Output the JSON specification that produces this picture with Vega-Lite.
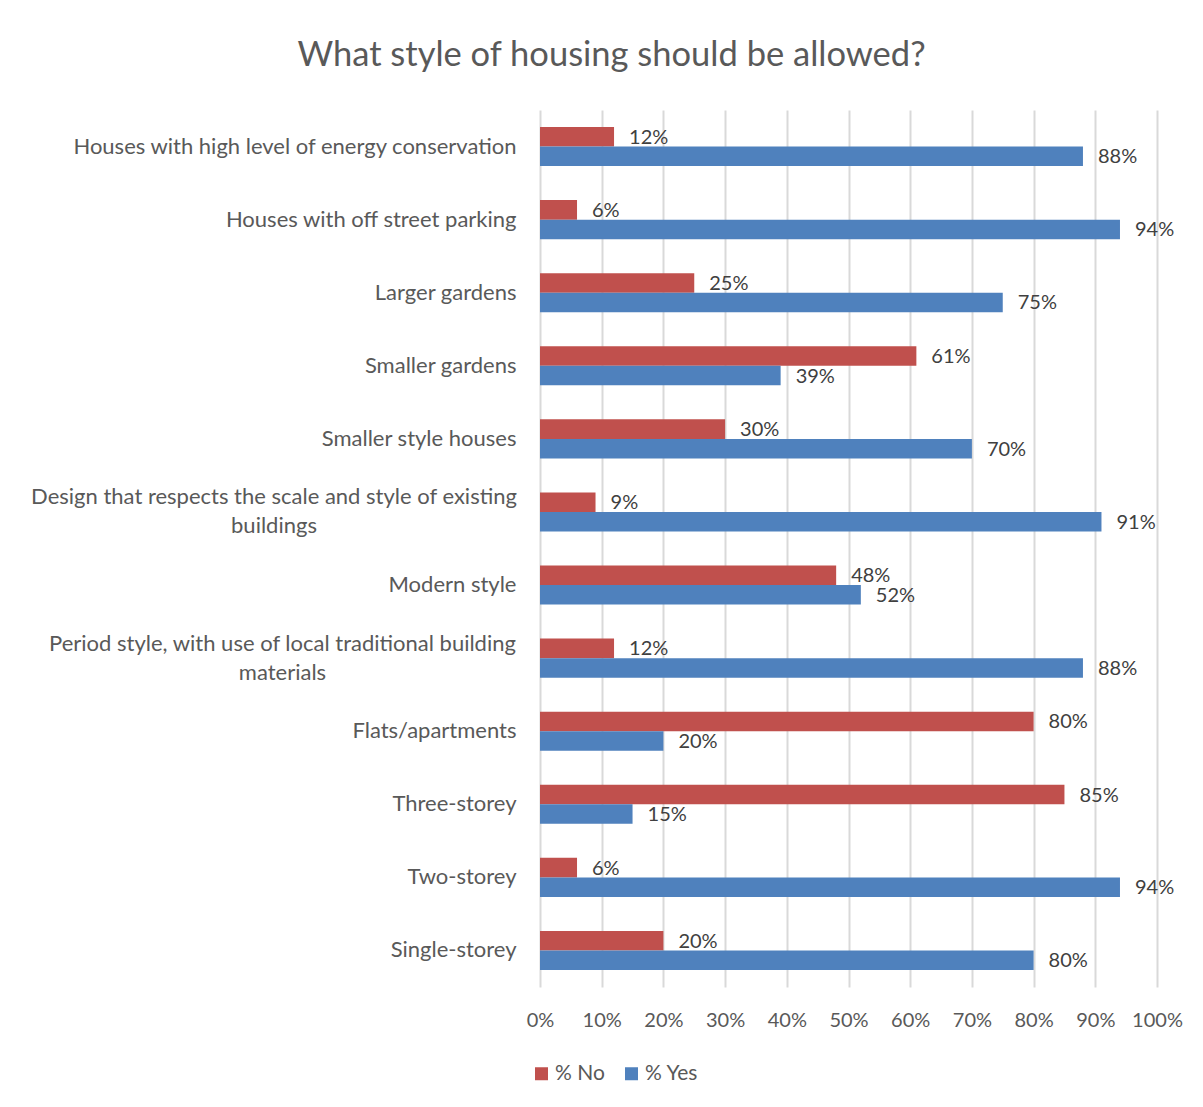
{
  "$schema": "https://vega.github.io/schema/vega-lite/v6.json",
  "autosize": {"type": "none"},
  "width": 617,
  "height": 877,
  "padding": {"left": 540, "top": 110, "right": 46, "bottom": 120},
  "background": "#ffffff",
  "title": {
    "text": "What style of housing should be allowed?",
    "anchor": "middle",
    "dx": -237,
    "offset": 37,
    "font": "Lato",
    "fontSize": 34.5,
    "fontWeight": "normal",
    "color": "#595959"
  },
  "data": {
    "values": [
      {"category": "Houses with high level of energy conservation", "series": "% No", "value": 0.12},
      {"category": "Houses with high level of energy conservation", "series": "% Yes", "value": 0.88},
      {"category": "Houses with off street parking", "series": "% No", "value": 0.06},
      {"category": "Houses with off street parking", "series": "% Yes", "value": 0.94},
      {"category": "Larger gardens", "series": "% No", "value": 0.25},
      {"category": "Larger gardens", "series": "% Yes", "value": 0.75},
      {"category": "Smaller gardens", "series": "% No", "value": 0.61},
      {"category": "Smaller gardens", "series": "% Yes", "value": 0.39},
      {"category": "Smaller style houses", "series": "% No", "value": 0.30},
      {"category": "Smaller style houses", "series": "% Yes", "value": 0.70},
      {"category": "Design that respects the scale and style of existing buildings", "series": "% No", "value": 0.09},
      {"category": "Design that respects the scale and style of existing buildings", "series": "% Yes", "value": 0.91},
      {"category": "Modern style", "series": "% No", "value": 0.48},
      {"category": "Modern style", "series": "% Yes", "value": 0.52},
      {"category": "Period style, with use of local traditional building materials", "series": "% No", "value": 0.12},
      {"category": "Period style, with use of local traditional building materials", "series": "% Yes", "value": 0.88},
      {"category": "Flats/apartments", "series": "% No", "value": 0.80},
      {"category": "Flats/apartments", "series": "% Yes", "value": 0.20},
      {"category": "Three-storey", "series": "% No", "value": 0.85},
      {"category": "Three-storey", "series": "% Yes", "value": 0.15},
      {"category": "Two-storey", "series": "% No", "value": 0.06},
      {"category": "Two-storey", "series": "% Yes", "value": 0.94},
      {"category": "Single-storey", "series": "% No", "value": 0.20},
      {"category": "Single-storey", "series": "% Yes", "value": 0.80}
    ]
  },
  "encoding": {
    "y": {
      "field": "category",
      "type": "nominal",
      "sort": null,
      "title": null,
      "scale": {"paddingInner": 0.466, "paddingOuter": 0.233},
      "axis": {
        "domain": false,
        "ticks": false,
        "grid": false,
        "labelFont": "Lato",
        "labelFontSize": 22,
        "labelColor": "#595959",
        "labelLimit": 700,
        "labelLineHeight": 29,
        "labelBaseline": "middle",
        "labelExpr": "datum.value == 'Design that respects the scale and style of existing buildings' ? ['Design that respects the scale and style of existing', 'buildings'] : datum.value == 'Period style, with use of local traditional building materials' ? ['Period style, with use of local traditional building', 'materials'] : datum.value",
        "labelAlign": {"condition": {"test": "indexof(datum.value, ' building') >= 0", "value": "center"}, "value": "right"},
        "labelOffset": {"condition": {"test": "indexof(datum.value, ' building') >= 0", "value": -14.5}, "value": 0},
        "labelPadding": {"condition": [
          {"test": "datum.value == 'Design that respects the scale and style of existing buildings'", "value": 266.5},
          {"test": "datum.value == 'Period style, with use of local traditional building materials'", "value": 258}
        ], "value": 24}
      }
    },
    "yOffset": {"field": "series", "type": "nominal", "sort": ["% No", "% Yes"], "scale": {"paddingInner": 0, "paddingOuter": 0}},
    "x": {
      "field": "value",
      "type": "quantitative",
      "title": null,
      "scale": {"domain": [0, 1], "nice": false},
      "axis": {
        "values": [0, 0.1, 0.2, 0.3, 0.4, 0.5, 0.6, 0.7, 0.8, 0.9, 1],
        "format": ".0%",
        "domain": false,
        "ticks": false,
        "grid": true,
        "gridColor": "#D9D9D9",
        "gridWidth": 2,
        "labelFont": "Lato",
        "labelFontSize": 20,
        "labelColor": "#595959",
        "labelPadding": 23,
        "labelFlush": false,
        "labelOverlap": false
      }
    }
  },
  "layer": [
    {
      "mark": {"type": "bar"},
      "encoding": {
        "color": {
          "field": "series",
          "type": "nominal",
          "scale": {"domain": ["% No", "% Yes"], "range": ["#C0504D", "#4F81BD"]},
          "legend": {
            "title": null,
            "orient": "none",
            "direction": "horizontal",
            "legendX": -9,
            "legendY": 953,
            "symbolType": "square",
            "symbolSize": 169,
            "symbolStrokeWidth": 0,
            "labelFont": "Lato",
            "labelFontSize": 21,
            "labelColor": "#595959",
            "labelOffset": 3,
            "columnPadding": 16,
            "padding": 0
          }
        }
      }
    },
    {
      "mark": {"type": "text", "align": "left", "baseline": "middle", "dx": 15, "dy": 1, "font": "Lato", "fontSize": 20, "color": "#404040"},
      "encoding": {
        "text": {"field": "value", "type": "quantitative", "format": ".0%"}
      }
    }
  ],
  "config": {
    "view": {"stroke": null}
  }
}
